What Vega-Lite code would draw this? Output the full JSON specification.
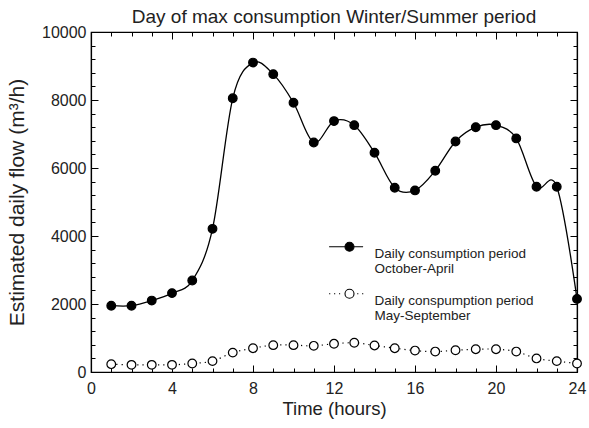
{
  "$schema": "https://vega.github.io/schema/vega-lite/v6.json",
  "width": 486,
  "height": 340,
  "autosize": "none",
  "padding": {"left": 91, "top": 32, "right": 12, "bottom": 56},
  "background": "white",
  "title": {"text": "Day of max consumption Winter/Summer period", "font": "Liberation Sans", "fontSize": 19, "fontWeight": "normal", "color": "#222", "offset": -3},
  "config": {
    "view": {"stroke": "black", "strokeWidth": 1.2},
    "axis": {
      "domainColor": "black", "domainWidth": 1.2, "tickColor": "black", "tickWidth": 1,
      "labelFont": "Liberation Sans", "labelFontSize": 16, "labelColor": "#222",
      "titleFont": "Liberation Sans", "titleFontSize": 18.5, "titleFontWeight": "normal", "titleColor": "#222",
      "grid": false
    },
    "legend": {
      "orient": "none", "legendX": 240.5, "legendY": 196.7, "title": null, "padding": 0,
      "symbolSize": 1156, "symbolStrokeColor": "black", "symbolStrokeWidth": 1.1,
      "labelFont": "Liberation Sans", "labelFontSize": 13.5, "labelColor": "#222",
      "labelOffset": 7, "rowPadding": -6, "labelLimit": 300
    }
  },
  "data": {"values": [
    {"hour": 1, "flow": 1950, "series": "winter"},
    {"hour": 2, "flow": 1950, "series": "winter"},
    {"hour": 3, "flow": 2100, "series": "winter"},
    {"hour": 4, "flow": 2320, "series": "winter"},
    {"hour": 5, "flow": 2690, "series": "winter"},
    {"hour": 6, "flow": 4210, "series": "winter"},
    {"hour": 7, "flow": 8050, "series": "winter"},
    {"hour": 8, "flow": 9100, "series": "winter"},
    {"hour": 9, "flow": 8760, "series": "winter"},
    {"hour": 10, "flow": 7920, "series": "winter"},
    {"hour": 11, "flow": 6750, "series": "winter"},
    {"hour": 12, "flow": 7380, "series": "winter"},
    {"hour": 13, "flow": 7260, "series": "winter"},
    {"hour": 14, "flow": 6450, "series": "winter"},
    {"hour": 15, "flow": 5420, "series": "winter"},
    {"hour": 16, "flow": 5340, "series": "winter"},
    {"hour": 17, "flow": 5920, "series": "winter"},
    {"hour": 18, "flow": 6780, "series": "winter"},
    {"hour": 19, "flow": 7200, "series": "winter"},
    {"hour": 20, "flow": 7260, "series": "winter"},
    {"hour": 21, "flow": 6870, "series": "winter"},
    {"hour": 22, "flow": 5450, "series": "winter"},
    {"hour": 23, "flow": 5450, "series": "winter"},
    {"hour": 24, "flow": 2150, "series": "winter"},
    {"hour": 1, "flow": 230, "series": "summer"},
    {"hour": 2, "flow": 210, "series": "summer"},
    {"hour": 3, "flow": 210, "series": "summer"},
    {"hour": 4, "flow": 210, "series": "summer"},
    {"hour": 5, "flow": 250, "series": "summer"},
    {"hour": 6, "flow": 320, "series": "summer"},
    {"hour": 7, "flow": 570, "series": "summer"},
    {"hour": 8, "flow": 700, "series": "summer"},
    {"hour": 9, "flow": 790, "series": "summer"},
    {"hour": 10, "flow": 790, "series": "summer"},
    {"hour": 11, "flow": 770, "series": "summer"},
    {"hour": 12, "flow": 830, "series": "summer"},
    {"hour": 13, "flow": 860, "series": "summer"},
    {"hour": 14, "flow": 780, "series": "summer"},
    {"hour": 15, "flow": 700, "series": "summer"},
    {"hour": 16, "flow": 630, "series": "summer"},
    {"hour": 17, "flow": 600, "series": "summer"},
    {"hour": 18, "flow": 640, "series": "summer"},
    {"hour": 19, "flow": 670, "series": "summer"},
    {"hour": 20, "flow": 670, "series": "summer"},
    {"hour": 21, "flow": 600, "series": "summer"},
    {"hour": 22, "flow": 400, "series": "summer"},
    {"hour": 23, "flow": 320, "series": "summer"},
    {"hour": 24, "flow": 250, "series": "summer"}
  ]},
  "layer": [
    {
      "transform": [{"filter": "datum.series === 'winter'"}],
      "mark": {"type": "line", "interpolate": "cardinal", "color": "black", "strokeWidth": 1.3},
      "encoding": {
        "x": {"field": "hour", "type": "quantitative", "scale": {"domain": [0, 24], "nice": false},
          "axis": {"orient": "bottom", "title": "Time (hours)", "values": [0,1,2,3,4,5,6,7,8,9,10,11,12,13,14,15,16,17,18,19,20,21,22,23,24],
            "labelExpr": "datum.value % 4 === 0 ? datum.label : ''",
            "tickSize": {"condition": {"test": "datum.value % 4 === 0", "value": -7}, "value": -4},
            "labelPadding": 15, "titlePadding": 0, "labelFlush": false, "labelOverlap": false}},
        "y": {"field": "flow", "type": "quantitative", "scale": {"domain": [0, 10000], "nice": false},
          "axis": {"orient": "left", "title": "Estimated daily flow (m³/h)", "titleFontSize": 21, "values": [0,400,800,1200,1600,2000,2400,2800,3200,3600,4000,4400,4800,5200,5600,6000,6400,6800,7200,7600,8000,8400,8800,9200,9600,10000],
            "format": "d", "labelExpr": "datum.value % 2000 === 0 ? datum.label : ''",
            "tickSize": {"condition": {"test": "datum.value % 2000 === 0", "value": -7}, "value": -4},
            "labelPadding": 12, "titlePadding": 14, "labelFlush": false, "labelOverlap": false}}
      }
    },
    {
      "transform": [{"filter": "datum.series === 'summer'"}],
      "mark": {"type": "line", "interpolate": "cardinal", "color": "black", "strokeWidth": 1.2, "strokeDash": [1.2, 4]},
      "encoding": {
        "x": {"field": "hour", "type": "quantitative", "axis": null},
        "y": {"field": "flow", "type": "quantitative", "axis": null}
      }
    },
    {
      "mark": {"type": "point", "shape": "circle", "filled": true, "stroke": "black", "strokeWidth": 1.2, "size": 75, "opacity": 1},
      "encoding": {
        "x": {"field": "hour", "type": "quantitative",
          "axis": {"orient": "top", "title": null, "labels": false, "values": [0,1,2,3,4,5,6,7,8,9,10,11,12,13,14,15,16,17,18,19,20,21,22,23,24],
            "tickSize": {"condition": {"test": "datum.value % 4 === 0", "value": -7}, "value": -4}}},
        "y": {"field": "flow", "type": "quantitative",
          "axis": {"orient": "right", "title": null, "labels": false, "values": [0,400,800,1200,1600,2000,2400,2800,3200,3600,4000,4400,4800,5200,5600,6000,6400,6800,7200,7600,8000,8400,8800,9200,9600,10000],
            "tickSize": {"condition": {"test": "datum.value % 2000 === 0", "value": -7}, "value": -4}}},
        "fill": {"field": "series", "type": "nominal",
          "scale": {"domain": ["winter", "summer"], "range": ["black", "white"]},
          "legend": {
            "labelExpr": "datum.value === 'winter' ? ['Daily consumption period', 'October-April'] : ['Daily conspumption period', 'May-September']",
            "labelBaseline": "top",
            "symbolType": {"expr": "datum.value === 'winter' ? 'M-1.2,0L-0.265,0M0.265,0L0.8,0M0.265,0A0.265,0.265,0,1,1,-0.265,0A0.265,0.265,0,1,1,0.265,0Z' : 'M-1.2,0L-1.13,0M-0.91,0L-0.84,0M-0.62,0L-0.55,0M0.45,0L0.52,0M0.74,0L0.81,0M0.265,0A0.265,0.265,0,1,1,-0.265,0A0.265,0.265,0,1,1,0.265,0Z'"}
          }}
      }
    }
  ],
  "resolve": {"axis": {"x": "independent", "y": "independent"}}
}
